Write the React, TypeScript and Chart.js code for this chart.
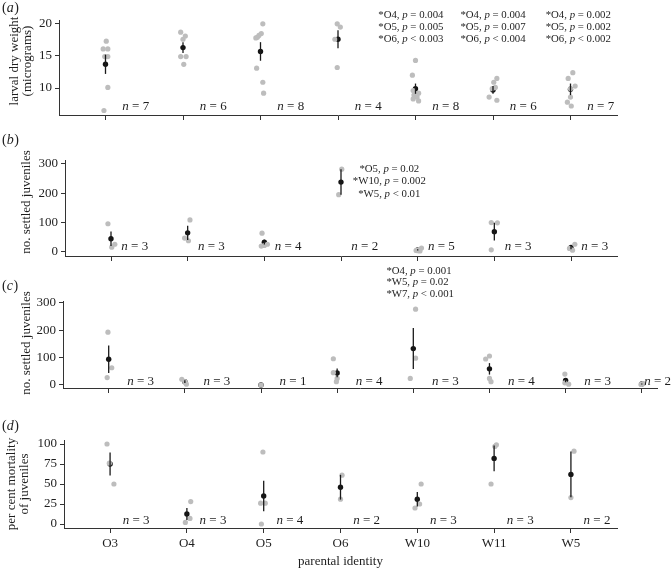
import React, { useEffect, useRef } from 'react';
import { Chart, registerables } from 'chart.js';
Chart.register(...registerables);

const FONT = '"Liberation Serif", "Times New Roman", serif';
const W = 671;
const H = 569;

// ---------- categories ----------
const categories = ['O3', 'O4', 'O5', 'O6', 'W10', 'W11', 'W5'];
const categoriesC = ['O3', 'O4', 'O5', 'O6', 'W10', 'W11', 'W5', 'W7'];

// ---------- panel (a): larval dry weight ----------
const aValues = [
  [17.3, 16.1, 16.1, 14.9, 14.9, 10.1, 6.5],
  [18.7, 18.1, 17.6, 14.9, 14.9, 13.7],
  [20.0, 18.5, 18.2, 17.9, 17.8, 13.1, 10.9, 9.2],
  [20.0, 19.5, 17.6, 13.2],
  [14.3, 12.0, 9.6, 9.2, 8.9, 8.6, 8.3, 8.0],
  [11.5, 10.9, 10.1, 9.9, 8.6, 8.1],
  [12.4, 11.5, 10.3, 9.9, 8.6, 7.8, 7.2],
];
const aJitter = [
  [0.01, -0.03, 0.03, -0.01, 0.03, 0.03, -0.02],
  [-0.03, 0.03, 0.0, -0.03, 0.04, 0.01],
  [0.03, 0.01, -0.02, -0.04, -0.06, -0.05, 0.03, 0.04],
  [-0.01, 0.03, -0.04, -0.01],
  [0.0, -0.04, -0.03, 0.04, -0.02, 0.02, -0.03, 0.04],
  [0.05, 0.01, 0.03, -0.01, -0.05, 0.05],
  [0.03, -0.03, 0.06, 0.0, 0.0, -0.04, 0.01],
];
const aMeans = [13.7, 16.3, 15.7, 17.6, 9.9, 9.7, 9.8];
const aSE = [1.5, 0.85, 1.45, 1.4, 0.8, 0.6, 0.9];
const aN = [7, 6, 8, 4, 8, 6, 7];
const aTicks = [10, 15, 20];
const aNotesW10 = ['*O4, p = 0.004', '*O5, p = 0.005', '*O6, p < 0.003'];
const aNotesW11 = ['*O4, p = 0.004', '*O5, p = 0.007', '*O6, p < 0.004'];
const aNotesW5 = ['*O4, p = 0.002', '*O5, p = 0.002', '*O6, p < 0.002'];

// ---------- panel (b): settled juveniles ----------
const bValues = [[96, 16, 26], [109, 47, 38], [64, 26, 22, 20], [282, 195], [13, 8, 5, 4, 3], [100, 99, 7], [26, 12, 6]];
const bJitter = [[-0.04, 0.01, 0.05], [0.03, -0.04, 0.01], [-0.03, 0.04, 0.0, -0.04], [0.01, -0.03], [0.05, 0.02, -0.02, 0.0, 0.03], [-0.04, 0.04, -0.04], [0.05, -0.02, 0.02]];
const bMeans = [45, 65, 33, 238, 7, 69, 15];
const bSE = [24.5, 24.5, 8, 43.5, 2, 30, 6];
const bN = [3, 3, 4, 2, 5, 3, 3];
const bTicks = [0, 100, 200, 300];
const bNotesO6 = ['*O5, p = 0.02', '*W10, p = 0.002', '*W5, p < 0.01'];

// ---------- panel (c): settled juveniles ----------
const cValues = [[193, 63, 27], [21, 12, 3], [0], [96, 45, 24, 12], [277, 98, 24], [106, 95, 24, 12], [40, 8, 3], [5, 2]];
const cJitter = [[-0.01, 0.04, -0.02], [-0.04, 0.0, 0.02], [0], [-0.05, -0.05, 0.0, -0.01], [0.03, 0.03, -0.04], [0.0, -0.05, 0.0, 0.02], [-0.01, -0.01, 0.04], [0.02, -0.01]];
const cMeans = [94, 12, 0, 44, 133, 59, 17, 3.5];
const cSE = [50, 5, 0, 16, 75, 21, 7, 1.5];
const cN = [3, 3, 1, 4, 3, 4, 3, 2];
const cTicks = [0, 100, 200, 300];
const cNotesW10 = ['*O4, p = 0.001', '*W5, p = 0.02', '*W7, p < 0.001'];

// ---------- panel (d): per cent mortality ----------
const dValues = [[100, 76, 50], [28, 7, 2], [90, 26, 26, 0], [61, 31], [50, 25, 20], [99, 97, 50], [91, 33]];
const dJitter = [[-0.04, -0.01, 0.05], [0.05, 0.04, -0.02], [-0.01, -0.04, 0.02, -0.03], [0.02, 0.0], [0.05, 0.03, -0.03], [0.03, 0.01, -0.04], [0.04, 0.0]];
const dMeans = [75, 12.5, 35, 46, 31, 82, 62];
const dSE = [14.5, 7.5, 19, 15.5, 9, 16, 28.5];
const dN = [3, 3, 4, 2, 3, 3, 2];
const dTicks = [0, 25, 50, 75, 100];

type Note = { cat: number; lines: string[]; align: 'left' | 'center'; dx: number; y0: number; dy: number };
type Panel = {
  letter: string;
  cats: string[];
  values: number[][];
  jitter: number[][];
  means: number[];
  se: number[];
  n: number[];
  yTicks: number[];
  title: string[];
  left: number; right: number; top: number; bottom: number;
  xMin: number; xMax: number; yMin: number; yMax: number;
  labelY: number; titleX: number[]; titleY: number;
  nDx: number; nUp: number;
  showX: boolean;
  notes: Note[];
};

const panels: Panel[] = [
  {
    letter: 'a', cats: categories, values: aValues, jitter: aJitter, means: aMeans, se: aSE, n: aN, yTicks: aTicks,
    title: ['larval dry weight', '(micrograms)'],
    left: 59, right: 617, top: 20, bottom: 115, xMin: -0.6, xMax: 6.6, yMin: 5.8, yMax: 20.6,
    labelY: 8, titleX: [15, 28], titleY: 61, nDx: 0.39, nUp: 8, showX: false,
    notes: [
      { cat: 4, lines: aNotesW10, align: 'left', dx: -0.06, y0: 15, dy: 12 },
      { cat: 5, lines: aNotesW11, align: 'left', dx: 0.0, y0: 15, dy: 12 },
      { cat: 6, lines: aNotesW5, align: 'left', dx: 0.1, y0: 15, dy: 12 },
    ],
  },
  {
    letter: 'b', cats: categories, values: bValues, jitter: bJitter, means: bMeans, se: bSE, n: bN, yTicks: bTicks,
    title: ['no. settled juveniles'],
    left: 65, right: 617, top: 160.4, bottom: 256, xMin: -0.6, xMax: 6.6, yMin: -14, yMax: 312,
    labelY: 140, titleX: [27], titleY: 202, nDx: 0.31, nUp: 9, showX: false,
    notes: [{ cat: 3, lines: bNotesO6, align: 'center', dx: 0.63, y0: 169, dy: 12.5 }],
  },
  {
    letter: 'c', cats: categoriesC, values: cValues, jitter: cJitter, means: cMeans, se: cSE, n: cN, yTicks: cTicks,
    title: ['no. settled juveniles'],
    left: 63, right: 657, top: 301, bottom: 388, xMin: -0.6, xMax: 7.2, yMin: -11, yMax: 307,
    labelY: 286, titleX: [27], titleY: 343, nDx: 0.42, nUp: 6, showX: false,
    notes: [{ cat: 4, lines: cNotesW10, align: 'left', dx: 0.09, y0: 271, dy: 11.5 }],
  },
  {
    letter: 'd', cats: categories, values: dValues, jitter: dJitter, means: dMeans, se: dSE, n: dN, yTicks: dTicks,
    title: ['per cent mortality', 'of juveniles'],
    left: 64, right: 617, top: 440, bottom: 528, xMin: -0.6, xMax: 6.6, yMin: -5, yMax: 105,
    labelY: 426, titleX: [12, 25], titleY: 484, nDx: 0.34, nUp: 7, showX: true,
    notes: [],
  },
];

const Y_W = 50;
const X_H = 30;
const AXIS = '#333333';
const TEXT = '#1e1e1e';

function drawRich(ctx: CanvasRenderingContext2D, text: string, x: number, y: number, size: number, align: 'left' | 'center' | 'right') {
  const parts = text.split(/(\b[pn]\b)/).filter((s) => s.length > 0);
  const fontFor = (it: boolean) => `${it ? 'italic ' : ''}${size}px ${FONT}`;
  const isIt = (s: string) => s === 'p' || s === 'n';
  let total = 0;
  const widths = parts.map((p) => {
    ctx.font = fontFor(isIt(p));
    const w = ctx.measureText(p).width;
    total += w;
    return w;
  });
  let cx = align === 'left' ? x : align === 'center' ? x - total / 2 : x - total;
  ctx.textAlign = 'left';
  ctx.textBaseline = 'middle';
  parts.forEach((p, i) => {
    ctx.font = fontFor(isIt(p));
    ctx.fillText(p, cx, y);
    cx += widths[i];
  });
  return total;
}

function measureRich(ctx: CanvasRenderingContext2D, text: string, size: number) {
  const parts = text.split(/(\b[pn]\b)/).filter((s) => s.length > 0);
  let total = 0;
  parts.forEach((p) => {
    ctx.font = `${p === 'p' || p === 'n' ? 'italic ' : ''}${size}px ${FONT}`;
    total += ctx.measureText(p).width;
  });
  return total;
}

function makePlugin(p: Panel) {
  return {
    id: 'decor_' + p.letter,
    afterDatasetDraw(chart: any, args: any) {
      if (args.index !== 0) return;
      const { ctx } = chart;
      const x = chart.scales.x;
      const y = chart.scales.y;
      ctx.save();
      ctx.strokeStyle = '#1a1a1a';
      ctx.lineWidth = 1.3;
      p.means.forEach((m, i) => {
        if (!p.se[i]) return;
        const px = x.getPixelForValue(i);
        ctx.beginPath();
        ctx.moveTo(px, y.getPixelForValue(m - p.se[i]));
        ctx.lineTo(px, y.getPixelForValue(m + p.se[i]));
        ctx.stroke();
      });
      ctx.restore();
    },
    afterDraw(chart: any) {
      const { ctx } = chart;
      const x = chart.scales.x;
      const area = chart.chartArea;
      ctx.save();
      ctx.fillStyle = TEXT;

      // panel label
      ctx.textBaseline = 'middle';
      ctx.textAlign = 'left';
      ctx.font = `14px ${FONT}`;
      let lx = 2;
      ctx.fillText('(', lx, p.labelY);
      lx += ctx.measureText('(').width;
      ctx.font = `italic 14px ${FONT}`;
      ctx.fillText(p.letter, lx, p.labelY);
      lx += ctx.measureText(p.letter).width + 0.5;
      ctx.font = `14px ${FONT}`;
      ctx.fillText(')', lx, p.labelY);

      // y title
      ctx.font = `13px ${FONT}`;
      p.title.forEach((line, i) => {
        ctx.save();
        ctx.translate(p.titleX[i], p.titleY);
        ctx.rotate(-Math.PI / 2);
        ctx.textAlign = 'center';
        ctx.textBaseline = 'middle';
        ctx.fillText(line, 0, 0);
        ctx.restore();
      });

      // n labels
      const spacing = x.getPixelForValue(1) - x.getPixelForValue(0);
      p.n.forEach((nv, i) => {
        const txt = `n = ${nv}`;
        const w = measureRich(ctx, txt, 13);
        let cx = x.getPixelForValue(i) + p.nDx * spacing;
        cx = Math.min(cx, W - w / 2);
        drawRich(ctx, txt, cx, area.bottom - p.nUp, 13, 'center');
      });

      // significance notes
      p.notes.forEach((note) => {
        const cx = x.getPixelForValue(note.cat) + note.dx * spacing;
        if (note.align === 'center') {
          note.lines.forEach((l, k) => drawRich(ctx, l, cx, note.y0 + k * note.dy, 10.8, 'center'));
        } else {
          const bw = Math.max(...note.lines.map((l) => measureRich(ctx, l, 10.8)));
          note.lines.forEach((l, k) => drawRich(ctx, l, cx - bw / 2, note.y0 + k * note.dy, 10.8, 'left'));
        }
      });

      // x title
      if (p.showX) {
        ctx.font = `13px ${FONT}`;
        ctx.textAlign = 'center';
        ctx.textBaseline = 'middle';
        ctx.fillText('parental identity', (area.left + area.right) / 2, 562);
      }
      ctx.restore();
    },
  };
}

function PanelChart({ p }: { p: Panel }) {
  const ref = useRef<HTMLCanvasElement | null>(null);
  useEffect(() => {
    if (!ref.current) return;
    const gray: { x: number; y: number }[] = [];
    p.values.forEach((vals, i) => vals.forEach((v, k) => gray.push({ x: i + p.jitter[i][k], y: v })));
    const meanPts = p.means.map((m, i) => ({ x: i, y: m }));
    const chart = new Chart(ref.current, {
      type: 'scatter',
      data: {
        datasets: [
          { data: gray, pointRadius: 2.6, pointBackgroundColor: '#bdbdbd', pointBorderWidth: 0, pointHoverRadius: 0, showLine: false },
          { data: meanPts, pointRadius: 2.7, pointBackgroundColor: '#141414', pointBorderWidth: 0, pointHoverRadius: 0, showLine: false },
        ],
      },
      options: {
        animation: false,
        responsive: false,
        maintainAspectRatio: false,
        devicePixelRatio: 1,
        events: [],
        layout: {
          padding: { left: p.left - Y_W, right: W - p.right, top: p.top, bottom: H - p.bottom - X_H },
        },
        plugins: { legend: { display: false }, tooltip: { enabled: false }, title: { display: false } },
        scales: {
          x: {
            type: 'linear',
            min: p.xMin,
            max: p.xMax,
            afterBuildTicks: (s: any) => {
              s.ticks = p.cats.map((_, i) => ({ value: i }));
            },
            afterFit: (s: any) => {
              s.height = X_H;
            },
            ticks: {
              display: p.showX,
              autoSkip: false,
              maxRotation: 0,
              padding: 3,
              color: TEXT,
              font: { family: FONT, size: 13 },
              callback: (_v: any, i: number) => p.cats[i],
            },
            grid: { display: true, drawOnChartArea: false, drawTicks: true, tickLength: 5, color: AXIS, lineWidth: 1 },
            border: { display: true, color: AXIS, width: 1 },
          },
          y: {
            type: 'linear',
            min: p.yMin,
            max: p.yMax,
            afterBuildTicks: (s: any) => {
              s.ticks = p.yTicks.map((v) => ({ value: v }));
            },
            afterFit: (s: any) => {
              s.width = Y_W;
            },
            ticks: {
              padding: 3,
              color: TEXT,
              font: { family: FONT, size: 13 },
              callback: (v: any) => String(v),
            },
            grid: { display: true, drawOnChartArea: false, drawTicks: true, tickLength: 4, color: AXIS, lineWidth: 1 },
            border: { display: true, color: AXIS, width: 1 },
          },
        },
      },
      plugins: [makePlugin(p)],
    } as any);
    return () => chart.destroy();
  }, [p]);
  return <canvas ref={ref} width={W} height={H} style={{ position: 'absolute', left: 0, top: 0, width: W, height: H }} />;
}

export default function App() {
  return (
    <div style={{ position: 'fixed', left: 0, top: 0, width: W, height: H, background: '#ffffff', overflow: 'hidden' }}>
      {panels.map((p) => (
        <PanelChart key={p.letter} p={p} />
      ))}
    </div>
  );
}
